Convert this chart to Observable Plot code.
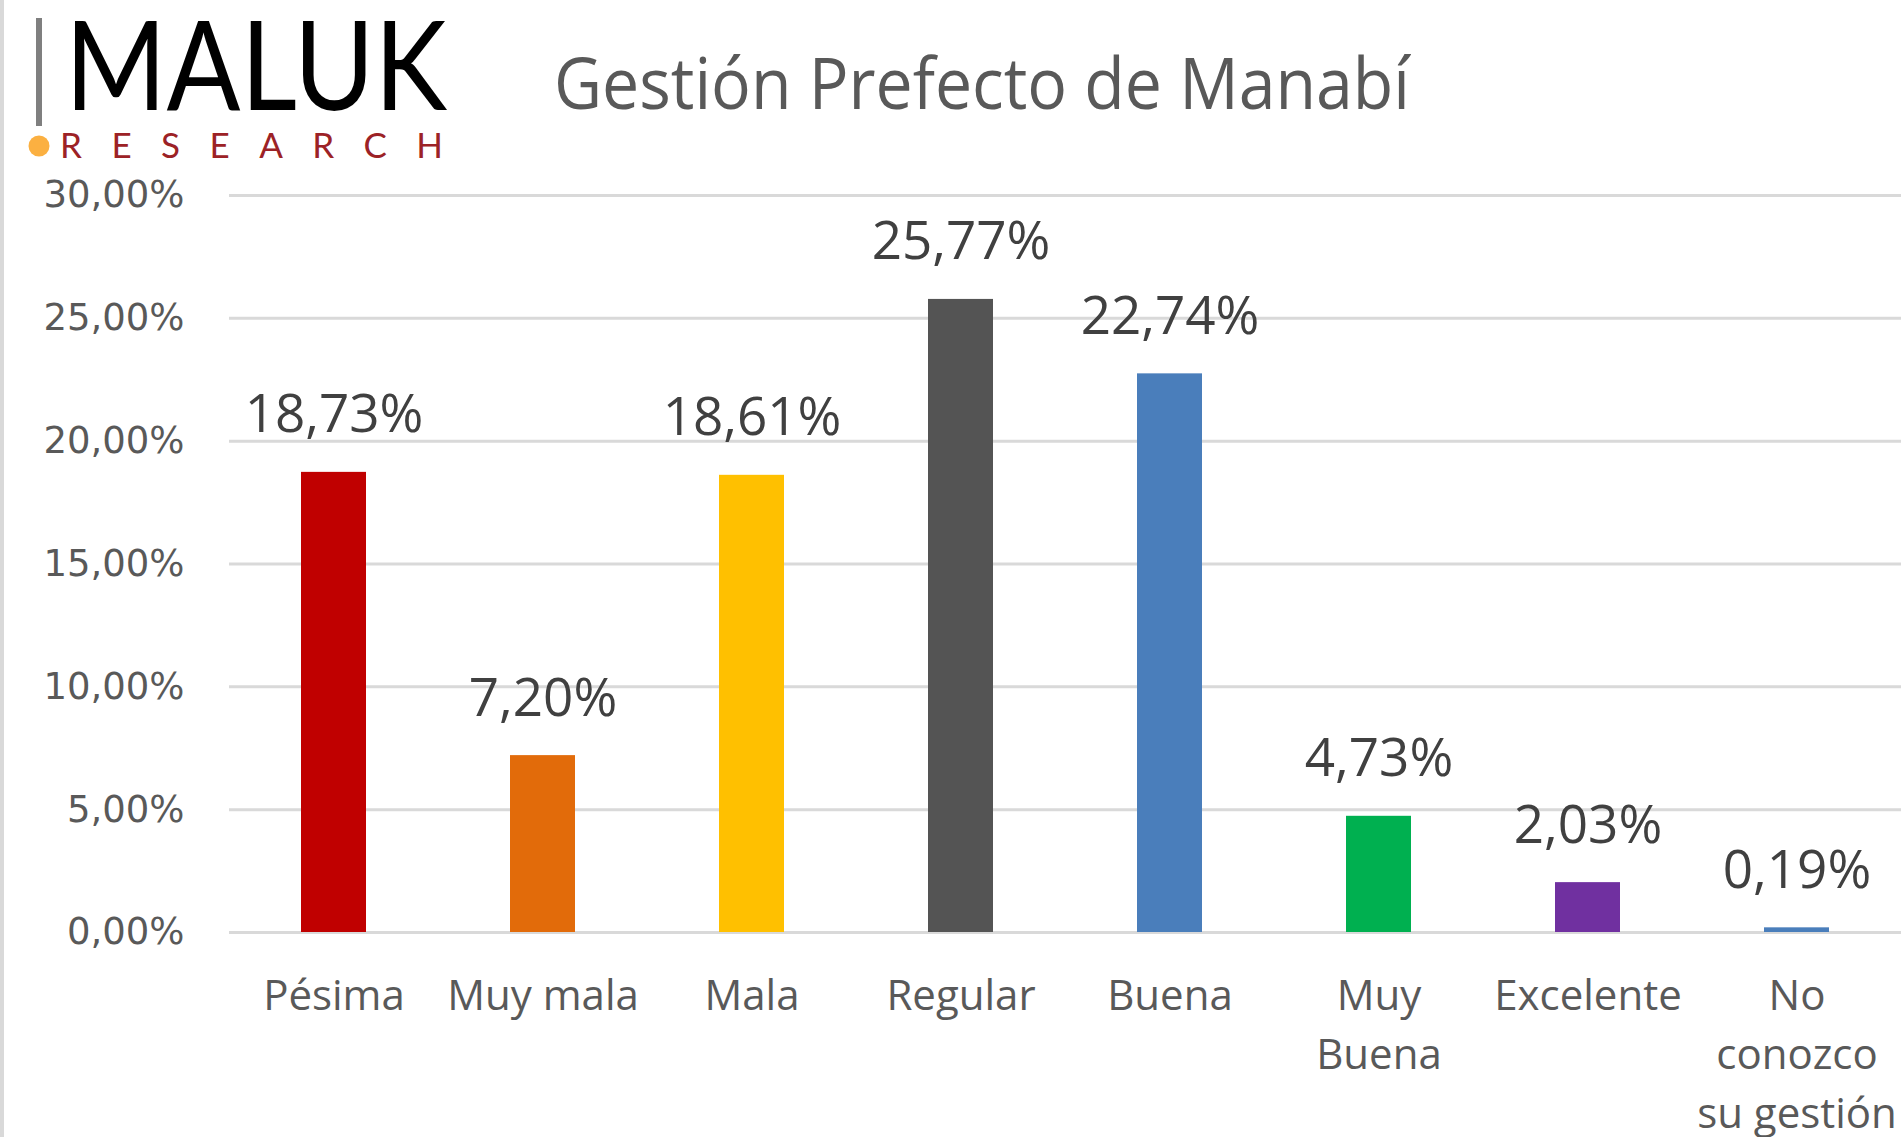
<!DOCTYPE html>
<html><head><meta charset="utf-8">
<script src="https://cdn.jsdelivr.net/npm/d3@7"></script>
<script src="https://cdn.jsdelivr.net/npm/@observablehq/plot@0.6"></script>
<style>
html,body{margin:0;padding:0;background:#fff;}
#wrap{position:relative;width:1901px;height:1137px;overflow:hidden;background:#fff;}
#wrap svg{display:block;}
.overlay{position:absolute;left:0;top:0;pointer-events:none;}
</style></head><body>
<div id="wrap"></div>
<script>
const title = "Gestión Prefecto de Manabí";
const categories = ["Pésima","Muy mala","Mala","Regular","Buena","Muy Buena","Excelente","No conozco su gestión"];
const tickLabels = ["Pésima","Muy mala","Mala","Regular","Buena","Muy\nBuena","Excelente","No\nconozco\nsu gestión"];
const values = [18.73, 7.20, 18.61, 25.77, 22.74, 4.73, 2.03, 0.19];
const colors = ["#C00000","#E26B0A","#FFC000","#545454","#4A7EBB","#00B050","#7030A0","#4A7EBB"];
const yTicks = [0,5,10,15,20,25,30];

const data = categories.map((c,i)=>({category:c, value:values[i], color:colors[i]}));
const fmt = v => v.toFixed(2).replace(".", ",") + "%";

const chart = Plot.plot({
  width:1901, height:1137,
  marginLeft:229, marginRight:0, marginTop:195, marginBottom:205,
  style:{background:"#fff", color:"#595959"},
  x:{domain:categories, paddingInner:0.69, paddingOuter:0.345, label:null},
  y:{domain:[0,30], label:null},
  color:{type:"identity"},
  marks:[
    Plot.gridY(yTicks, {stroke:"#d9d9d9", strokeOpacity:1, strokeWidth:3}),
    Plot.axisY(yTicks, {tickSize:0, tickPadding:45, tickFormat:d=>fmt(d), fontSize:37, fontFamily:"DejaVu Sans", fill:"#595959", label:null}),
    Plot.axisX({tickSize:0, tickPadding:36, tickFormat:d=>tickLabels[categories.indexOf(d)], fontSize:42, fontFamily:"Open Sans", fill:"#595959", lineHeight:1.4, label:null}),
    Plot.barY(data, {x:"category", y:"value", fill:"color"}),
    Plot.text(data, {x:"category", y:"value", text:d=>fmt(d.value), dy:-40, lineAnchor:"bottom", fontSize:53, fontFamily:"Open Sans", fill:"#404040"})
  ]
});
const wrap = document.getElementById("wrap");
wrap.appendChild(chart);

// overlay: left border, logo, title
const ov = d3.select(wrap).append("svg").attr("class","overlay").attr("width",1901).attr("height",1137);
ov.append("rect").attr("x",0).attr("y",0).attr("width",4).attr("height",1137).attr("fill","#d9d9d9");
ov.append("rect").attr("x",36).attr("y",18).attr("width",6).attr("height",108).attr("fill","#7f7f7f");
ov.append("text").attr("x",65).attr("y",110).attr("font-family","Lato").attr("font-size",125)
  .attr("textLength",382).attr("lengthAdjust","spacingAndGlyphs").attr("fill","#000").text("MALUK");
ov.append("circle").attr("cx",39).attr("cy",146).attr("r",10.5).attr("fill","#FBB041");
ov.append("text").attr("x",60).attr("y",158).attr("font-family","Lato").attr("font-size",35)
  .attr("textLength",383).attr("lengthAdjust","spacing").attr("fill","#9C2226").text("RESEARCH");
ov.append("text").attr("x",554).attr("y",109).attr("font-family","Open Sans").attr("font-size",72)
  .attr("textLength",856).attr("lengthAdjust","spacingAndGlyphs").attr("fill","#595959").text(title);
</script>
</body></html>
